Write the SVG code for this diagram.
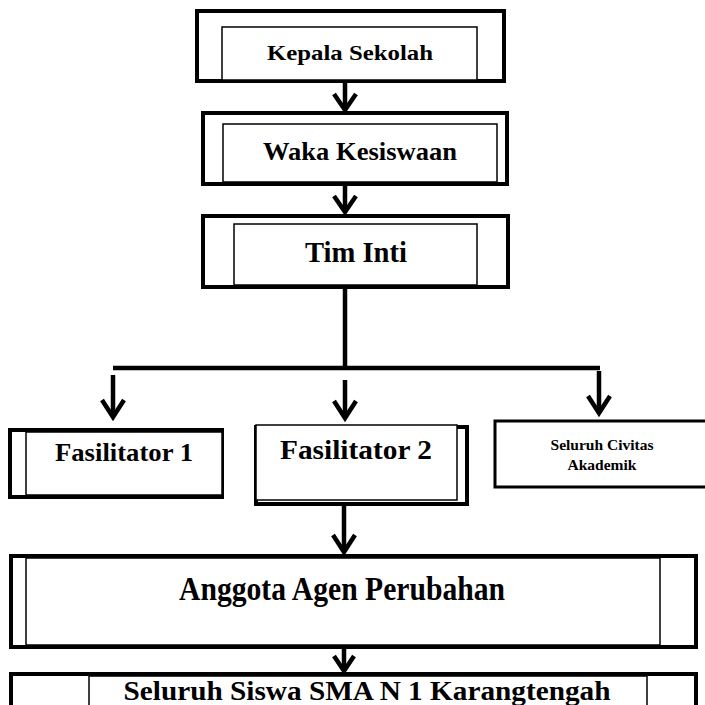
<svg xmlns="http://www.w3.org/2000/svg" width="705" height="705" viewBox="0 0 705 705">
<style>
.outer{fill:#fff;stroke:#000;stroke-width:4}
.inner{fill:#fff;stroke:#000;stroke-width:1.5}
.t{font-family:"Liberation Serif","Times New Roman",serif;font-weight:bold;fill:#000;text-anchor:middle}
.conn{fill:none;stroke:#000;stroke-width:4.5}
.head{fill:none;stroke:#000;stroke-width:4.5;stroke-linejoin:miter}
</style>
<rect width="705" height="705" fill="#fff"/>
<g id="connectors">
<line class="conn" x1="345" y1="82" x2="345" y2="110"/>
<polyline class="head" points="334,94 345,110 356,94"/>
<line class="conn" x1="345" y1="184" x2="345" y2="212"/>
<polyline class="head" points="334,196 345,212 356,196"/>
<line class="conn" x1="345" y1="287" x2="345" y2="370"/>
<line class="conn" x1="113" y1="368" x2="600" y2="368" stroke-width="5"/>
<line class="conn" x1="113" y1="375" x2="113" y2="417"/>
<polyline class="head" points="102,400 113,417 124,400"/>
<line class="conn" x1="345" y1="380" x2="345" y2="418"/>
<polyline class="head" points="334,401 345,418 356,401"/>
<line class="conn" x1="599" y1="371" x2="599" y2="413"/>
<polyline class="head" points="588,396 599,413 610,396"/>
<line class="conn" x1="344" y1="505" x2="344" y2="552"/>
<polyline class="head" points="333,535 344,552 355,535"/>
<line class="conn" x1="344" y1="648" x2="344" y2="671"/>
<polyline class="head" points="334,656 344,671 354,656"/>
</g>
<g id="kepala">
<rect class="outer" x="197" y="11" width="307" height="70"/>
<rect class="inner" x="222" y="27" width="255" height="53"/>
<text class="t" x="350" y="60" font-size="22" textLength="166" lengthAdjust="spacingAndGlyphs">Kepala  Sekolah</text>
</g>
<g id="waka">
<rect class="outer" x="203" y="113" width="304" height="71"/>
<rect class="inner" x="223" y="124" width="274" height="58"/>
<text class="t" x="360" y="160" font-size="25" textLength="194" lengthAdjust="spacingAndGlyphs">Waka Kesiswaan</text>
</g>
<g id="timinti">
<rect class="outer" x="203" y="216" width="305" height="71"/>
<rect class="inner" x="234" y="224" width="243" height="61"/>
<text class="t" x="356" y="262" font-size="29" textLength="102" lengthAdjust="spacingAndGlyphs">Tim Inti</text>
</g>
<g id="fasilitator1">
<rect class="outer" x="10" y="430" width="212" height="67"/>
<rect class="inner" x="26" y="432" width="196" height="63"/>
<text class="t" x="124" y="461" font-size="25" textLength="138" lengthAdjust="spacingAndGlyphs">Fasilitator 1</text>
</g>
<g id="fasilitator2">
<rect class="outer" x="256" y="427" width="211" height="77"/>
<rect class="inner" x="256" y="425" width="201" height="75"/>
<text class="t" x="356" y="459" font-size="28" textLength="152" lengthAdjust="spacingAndGlyphs">Fasilitator 2</text>
</g>
<g id="civitas">
<rect x="495" y="421" width="215" height="66" fill="#fff" stroke="#000" stroke-width="3"/>
<text class="t" x="602" y="450" font-size="15.5">Seluruh Civitas</text>
<text class="t" x="602" y="470" font-size="15.5">Akademik</text>
</g>
<g id="anggota">
<rect class="outer" x="11" y="556" width="685" height="91"/>
<rect class="inner" x="26" y="558" width="634" height="87"/>
<text class="t" x="342" y="600" font-size="33" textLength="326" lengthAdjust="spacingAndGlyphs">Anggota Agen Perubahan</text>
</g>
<g id="siswa">
<rect class="outer" x="11" y="674" width="685" height="66"/>
<rect class="inner" x="89" y="676" width="558" height="56"/>
<text class="t" x="367" y="700" font-size="28" textLength="487" lengthAdjust="spacingAndGlyphs">Seluruh Siswa SMA N 1 Karangtengah</text>
</g>
</svg>
